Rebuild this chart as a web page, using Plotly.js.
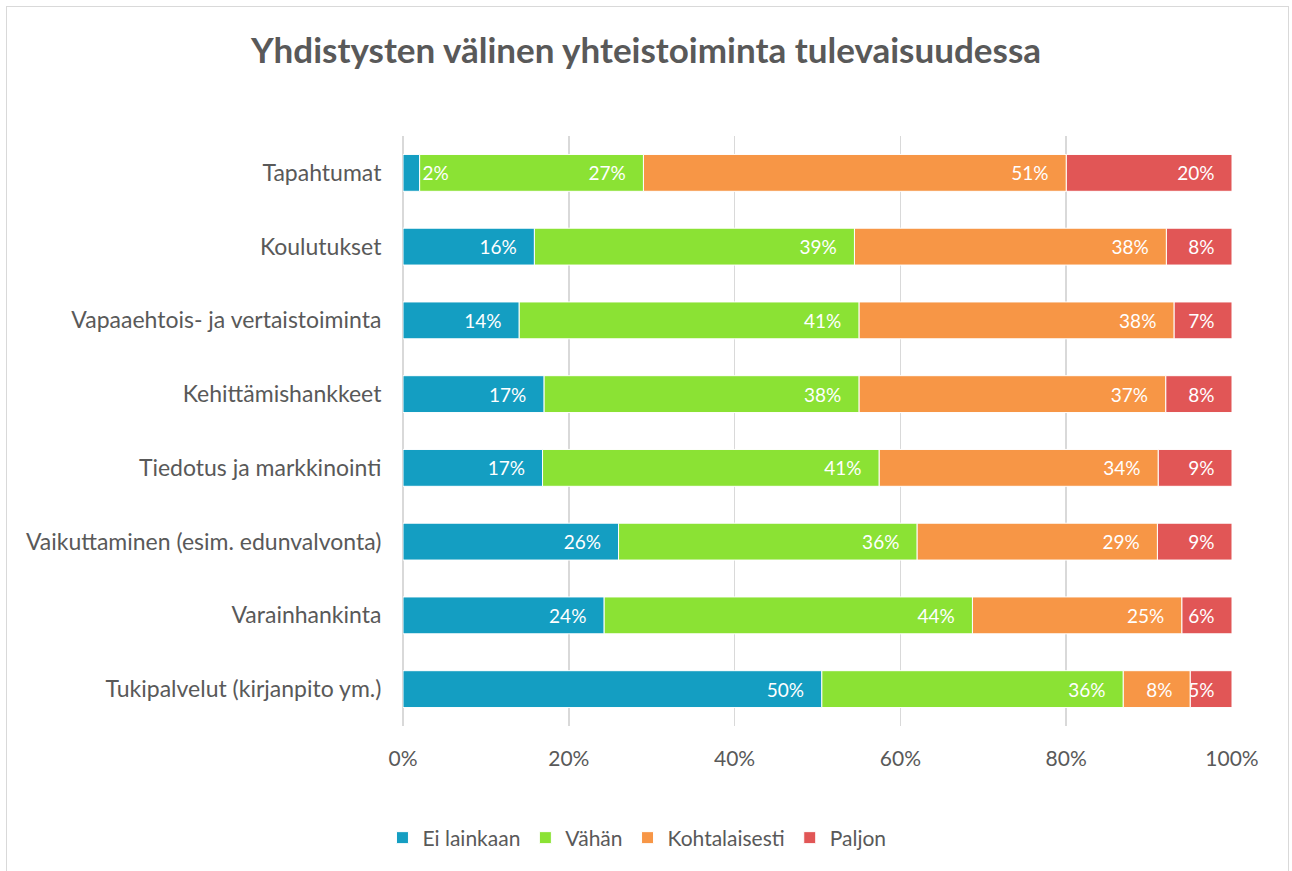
<!DOCTYPE html>
<html>
<head>
<meta charset="utf-8">
<script src="https://cdn.plot.ly/plotly-3.0.1.min.js"></script>
<style>
  html, body { margin: 0; padding: 0; background: #fff; overflow: hidden; }
  #chart { width: 1292px; height: 871px; }
  #frame { position: absolute; left: 6px; top: 6px; width: 1283px; height: 880px;
           border: 1px solid #d9d9d9; pointer-events: none; box-sizing: border-box; }
</style>
</head>
<body>
<div id="chart"></div>
<div id="frame"></div>
<script>
// Survey: how much cooperation between associations is expected in the future
const categories = [
  'Tapahtumat',
  'Koulutukset',
  'Vapaaehtois- ja vertaistoiminta',
  'Kehittämishankkeet',
  'Tiedotus ja markkinointi',
  'Vaikuttaminen (esim. edunvalvonta)',
  'Varainhankinta',
  'Tukipalvelut (kirjanpito ym.)'
];
const eiLainkaan    = [2, 16, 14, 17, 17, 26, 24, 50];
const vahan         = [27, 39, 41, 38, 41, 36, 44, 36];
const kohtalaisesti = [51, 38, 38, 37, 34, 29, 25, 8];
const paljon        = [20, 8, 7, 8, 9, 9, 6, 5];

const seriesNames = ['Ei lainkaan', 'Vähän', 'Kohtalaisesti', 'Paljon'];
const seriesValues = [eiLainkaan, vahan, kohtalaisesti, paljon];
const seriesColors = ['#149EC2', '#8BE234', '#F79646', '#E15656'];

const FONT = 'Lato, "Open Sans", sans-serif';
const GREY = '#595959';
const PAD = '\u00a0\u00a0\u00a0';

// 100 % stacking: each row is scaled to its own total, segments start where the previous one ends
const rowTotals = categories.map((_, r) => seriesValues.reduce((s, vals) => s + vals[r], 0));
const shares = seriesValues.map(vals => vals.map((v, r) => v / rowTotals[r] * 100));
const starts = shares.map((_, i) => categories.map((_, r) => {
  let s = 0;
  for (let k = 0; k < i; k++) s += shares[k][r];
  return s;
}));

// narrow segments carry their label just past the segment end
const NARROW = 5;

const traces = seriesValues.map((vals, i) => ({
  type: 'bar',
  orientation: 'h',
  name: seriesNames[i],
  y: categories,
  x: shares[i],
  base: starts[i],
  text: vals.map(v => String(v)),
  texttemplate: vals.map(v => v < NARROW ? '%{text}%' : '%{text}%' + PAD),
  textposition: vals.map(v => v < NARROW ? 'outside' : 'inside'),
  insidetextanchor: 'end',
  constraintext: 'none',
  textangle: 0,
  textfont: { family: FONT, size: 19, color: '#ffffff' },
  outsidetextfont: { family: FONT, size: 19, color: '#ffffff' },
  marker: { color: seriesColors[i], line: { color: '#ffffff', width: 1 } },
  hoverinfo: 'name+text'
})).reverse(); // first series drawn last so its labels sit on top

const layout = {
  width: 1292,
  height: 871,
  paper_bgcolor: '#ffffff',
  plot_bgcolor: '#ffffff',
  barmode: 'overlay',
  bargap: 0.5,
  margin: { l: 403, r: 60, t: 136, b: 145 },
  font: { family: FONT, color: GREY },
  title: {
    text: '<b>Yhdistysten välinen yhteistoiminta tulevaisuudessa</b>',
    font: { family: FONT, size: 35, color: GREY },
    x: 0.5, xref: 'container', xanchor: 'center',
    y: 1 - 51 / 871, yref: 'container', yanchor: 'middle'
  },
  xaxis: {
    range: [0, 100],
    dtick: 20,
    tick0: 0,
    ticksuffix: '%',
    showgrid: true,
    gridcolor: '#d9d9d9',
    gridwidth: 1.5,
    zeroline: true,
    zerolinecolor: '#d9d9d9',
    zerolinewidth: 1.5,
    showline: false,
    ticks: 'outside',
    ticklen: 14,
    tickcolor: 'rgba(0,0,0,0)',
    tickfont: { family: FONT, size: 21, color: GREY },
    fixedrange: true
  },
  yaxis: {
    autorange: 'reversed',
    showgrid: false,
    showline: false,
    zeroline: false,
    ticks: 'outside',
    ticklen: 16,
    tickcolor: 'rgba(0,0,0,0)',
    tickfont: { family: FONT, size: 23, color: GREY },
    fixedrange: true
  },
  legend: {
    orientation: 'h',
    xref: 'container', x: 0.493, xanchor: 'center',
    yref: 'container', y: 1 - 838 / 871, yanchor: 'middle',
    font: { family: FONT, size: 21, color: GREY },
    traceorder: 'reversed',
    itemwidth: 30
  },
  showlegend: true
};

Plotly.newPlot('chart', traces, layout, { displayModeBar: false, staticPlot: true });
</script>
</body>
</html>
